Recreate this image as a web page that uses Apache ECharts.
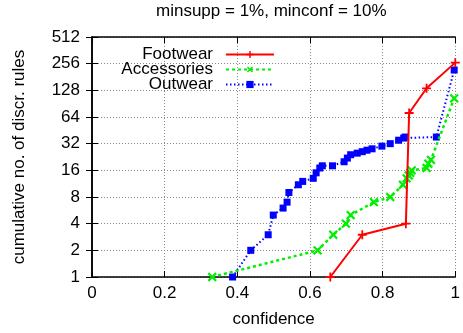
<!DOCTYPE html>
<html><head><meta charset="utf-8">
<script src="https://cdn.jsdelivr.net/npm/echarts@6/dist/echarts.min.js"></script>
<style>html,body{margin:0;padding:0;background:#fff}#c{width:463px;height:333px}</style>
</head><body><div id="c"></div>
<script>
const titleText = 'minsupp = 1%, minconf = 10%';
const xName = 'confidence';
const yName = 'cumulative no. of discr. rules';
const seriesNames = ['Footwear', 'Accessories', 'Outwear'];
const xTicks = [0, 0.2, 0.4, 0.6, 0.8, 1];
const yTicks = [1, 2, 4, 8, 16, 32, 64, 128, 256, 512];

const footwearConf  = [0.656, 0.744, 0.864, 0.873, 0.921, 1.0];
const footwearCount = [1, 3, 4, 71, 135, 263];

const accessoriesConf  = [0.331, 0.621, 0.664, 0.699, 0.712, 0.776, 0.821, 0.856, 0.866, 0.872, 0.876, 0.880, 0.921, 0.926, 0.933, 0.997];
const accessoriesCount = [1, 2, 3, 4, 5, 7, 8, 11, 13, 14, 15, 16, 17, 19, 21, 104];

const outwearConf  = [0.387, 0.437, 0.485, 0.499, 0.526, 0.537, 0.542, 0.568, 0.580, 0.609, 0.617, 0.627, 0.634, 0.662, 0.694, 0.703, 0.712, 0.730, 0.744, 0.757, 0.771, 0.798, 0.821, 0.844, 0.858, 0.862, 0.948, 0.997];
const outwearCount = [1, 2, 3, 5, 6, 7, 9, 11, 12, 13, 15, 17, 18, 18, 20, 22, 24, 25, 26, 27, 28, 30, 32, 35, 37, 38, 38, 217];

function pairs(xs, ys) { return xs.map((x, i) => [x, ys[i]]); }

const FONT = 'Liberation Sans';
const PLUS = 'path://M4,0H6V4H10V6H6V10H4V6H0V4H4Z';
const chart = echarts.init(document.getElementById('c'), null, {renderer: 'canvas'});

const gridLine = {show: true, lineStyle: {color: '#888', type: [1, 2], width: 1}};
const axisLineStyle = {show: true, lineStyle: {color: '#000', width: 1.5}};

chart.setOption({
  animation: false,
  backgroundColor: '#fff',
  textStyle: {fontFamily: FONT},
  title: {
    text: titleText, left: 156, top: 0, padding: [3, 0, 0, 0],
    textStyle: {fontFamily: FONT, fontSize: 17, fontWeight: 'normal', color: '#000'}
  },
  grid: {left: 92, right: 4, top: 37, bottom: 56, containLabel: false},
  legend: {
    orient: 'vertical', align: 'right', right: 183, top: 41,
    itemWidth: 48, itemHeight: 9, itemGap: -2,
    textStyle: {fontFamily: FONT, fontSize: 17, color: '#000', padding: [0, 8, 0, 0]},
    data: seriesNames
  },
  xAxis: [{
    type: 'value', min: xTicks[0], max: xTicks[xTicks.length - 1], interval: 0.2,
    name: xName, nameLocation: 'middle', nameGap: 34,
    nameTextStyle: {fontFamily: FONT, fontSize: 17, color: '#000'},
    axisLine: axisLineStyle,
    axisTick: {show: true, inside: true, length: 6, lineStyle: {color: '#000', width: 1}},
    axisLabel: {fontFamily: FONT, fontSize: 17, color: '#000', margin: 8,
      formatter: v => String(Math.round(v * 10) / 10)},
    splitLine: gridLine
  }, {
    type: 'value', position: 'top', min: 0, max: 1, interval: 0.2,
    axisLine: axisLineStyle,
    axisTick: {show: true, inside: true, length: 6, lineStyle: {color: '#000', width: 1}},
    axisLabel: {show: false}, splitLine: {show: false}
  }],
  yAxis: [{
    type: 'log', logBase: 2, min: yTicks[0], max: yTicks[yTicks.length - 1], splitNumber: 9,
    name: yName, nameLocation: 'middle', nameGap: 64,
    nameTextStyle: {fontFamily: FONT, fontSize: 17, color: '#000'},
    axisLine: axisLineStyle,
    axisTick: {show: true, inside: true, length: 6, lineStyle: {color: '#000', width: 1}},
    axisLabel: {fontFamily: FONT, fontSize: 17, color: '#000', margin: 12},
    splitLine: gridLine, minorTick: {show: false}
  }, {
    type: 'log', logBase: 2, position: 'right', min: 1, max: 512, splitNumber: 9,
    axisLine: axisLineStyle,
    axisTick: {show: true, inside: true, length: 6, lineStyle: {color: '#000', width: 1}},
    axisLabel: {show: false}, splitLine: {show: false}
  }],
  series: [{
    name: seriesNames[0], type: 'line', data: pairs(footwearConf, footwearCount),
    symbol: PLUS, symbolSize: 9,
    lineStyle: {color: '#ff0000', width: 2, type: 'solid'},
    itemStyle: {color: '#ff0000'}, z: 4
  }, {
    name: seriesNames[1], type: 'line', data: pairs(accessoriesConf, accessoriesCount),
    symbol: PLUS, symbolSize: 11, symbolRotate: 45,
    lineStyle: {color: '#00ee00', width: 2.5, type: [3, 3]},
    itemStyle: {color: '#00ee00'}, z: 3
  }, {
    name: seriesNames[2], type: 'line', data: pairs(outwearConf, outwearCount),
    symbol: 'rect', symbolSize: 7,
    lineStyle: {color: '#0000ff', width: 2, type: [1.5, 2.5]},
    itemStyle: {color: '#0000ff'}, z: 2
  }]
});
</script></body></html>
